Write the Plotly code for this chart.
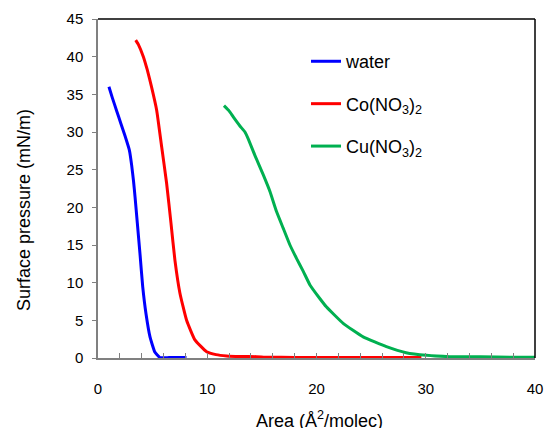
import plotly.graph_objects as go

# Data
water_area = [1.0, 1.3, 1.71, 2.1, 2.47, 2.87, 3.08, 3.25, 3.39, 3.6, 3.84, 4.09, 4.39, 4.76, 5.2, 5.67, 6.5, 7.3, 8.1]
water_pressure = [36.0, 34.6, 32.8, 31.1, 29.5, 27.6, 25.6, 23.5, 21.4, 17.9, 13.9, 9.5, 5.9, 2.8, 0.8, 0.05, 0.05, 0.05, 0.05]

co_area = [3.45, 3.7, 4.15, 4.5, 4.9, 5.37, 5.83, 6.28, 6.68, 7.04, 7.5, 8.11, 8.87, 9.94, 10.8, 11.77, 13.0, 14.5, 15.5, 18.0, 22.0, 26.0, 29.6]
co_pressure = [42.2, 41.6, 40.0, 38.3, 36.0, 32.9, 28.0, 23.2, 17.9, 13.0, 8.6, 5.0, 2.4, 0.84, 0.45, 0.27, 0.2, 0.18, 0.1, 0.08, 0.06, 0.05, 0.05]

cu_area = [11.53, 12.0, 12.38, 12.99, 13.45, 13.75, 14.36, 15.13, 15.74, 16.35, 16.96, 17.57, 18.18, 18.79, 19.4, 20.3, 20.9, 22.44, 24.27, 26.4, 28.2, 30.06, 32.2, 35.0, 38.0, 40.0]
cu_pressure = [33.5, 32.8, 32.0, 30.8, 30.0, 29.1, 26.9, 24.3, 22.1, 19.4, 17.2, 15.0, 13.2, 11.5, 9.7, 7.9, 6.8, 4.6, 2.8, 1.5, 0.7, 0.35, 0.18, 0.15, 0.1, 0.1]

series_names = ["water", "Co(NO<sub>3</sub>)<sub>2</sub>", "Cu(NO<sub>3</sub>)<sub>2</sub>"]
series_colors = ["#0000FF", "#FF0000", "#00B050"]

x_ticks = [0, 10, 20, 30, 40]
y_ticks = [0, 5, 10, 15, 20, 25, 30, 35, 40, 45]

FONT = "Liberation Sans, Arial, sans-serif"

fig = go.Figure()
for xs, ys, name, color in zip(
    [water_area, co_area, cu_area],
    [water_pressure, co_pressure, cu_pressure],
    series_names, series_colors,
):
    fig.add_trace(go.Scatter(
        x=xs, y=ys, mode="lines", name=name, legendgroup=name,
        line=dict(color=color, width=3, shape="spline", smoothing=0.4),
    ))

fig.update_layout(
    width=545, height=428,
    margin=dict(l=98, r=10, t=19, b=70),
    paper_bgcolor="white", plot_bgcolor="white",
    font=dict(family=FONT, color="black", size=15),
    showlegend=True,
    legend=dict(
        x=0.476, y=0.929, xanchor="left", yanchor="top",
        bgcolor="rgba(0,0,0,0)", borderwidth=0,
        font=dict(size=18, family=FONT),
        tracegroupgap=16, traceorder="grouped",
    ),
    xaxis=dict(
        range=[0, 40], tickmode="array", tickvals=x_ticks,
        ticks="inside", ticklen=5, tickcolor="#808080", tickwidth=1,
        minor=dict(dtick=2, ticks="inside", ticklen=5, tickcolor="#808080"),
        showline=True, linecolor="#808080", linewidth=1.5,
        showgrid=False, zeroline=False, automargin=False,
        ticklabelstandoff=16,
        tickfont=dict(size=15),
    ),
    yaxis=dict(
        range=[0, 45], tickmode="array", tickvals=y_ticks,
        ticks="outside", ticklen=4, tickcolor="#808080", tickwidth=1,
        showline=True, linecolor="#808080", linewidth=1.5,
        showgrid=False, zeroline=False, automargin=False,
        ticklabelstandoff=6,
        tickfont=dict(size=15),
    ),
    annotations=[
        dict(text="Surface pressure (mN/m)", xref="paper", yref="paper",
             x=-0.169, y=0.437, xanchor="center", yanchor="middle",
             textangle=-90, showarrow=False, font=dict(size=18, family=FONT)),
        dict(text="Area (Å<sup>2</sup>/molec)", xref="paper", yref="paper",
             x=0.508, y=-0.18, xanchor="center", yanchor="middle",
             showarrow=False, font=dict(size=18, family=FONT)),
    ],
    shapes=[
        dict(type="line", xref="paper", yref="paper", x0=0, x1=1, y0=1, y1=1,
             line=dict(color="black", width=1.5)),
        dict(type="line", xref="paper", yref="paper", x0=1, x1=1, y0=0, y1=1,
             line=dict(color="black", width=1.5)),
    ],
)

fig.write_html(
    "out.html",
    config={"displayModeBar": False},
    post_script=(
        "document.body.style.margin='0';"
        "document.body.style.overflow='hidden';"
        "document.documentElement.style.overflow='hidden';"
    ),
)
